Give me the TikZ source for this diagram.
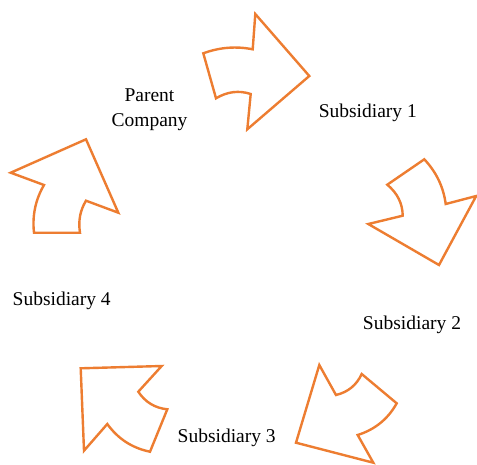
\documentclass[tikz,border=0pt]{standalone}
\usepackage{fontspec}
\setmainfont{Liberation Serif}
\definecolor{arroworange}{HTML}{ED7D31}
\tikzset{
  cyclearrow/.style={draw=arroworange, line width=2.4pt, line join=miter, fill=white},
  lbl/.style={font=\fontsize{19.5}{25}\selectfont, text=black, inner sep=0pt, anchor=base, align=center}
}
\begin{document}
\begin{tikzpicture}[x=1pt,y=-1pt]
\useasboundingbox (0,0) rectangle (477,464);
% arrow 1 (top)
\draw[cyclearrow] (203.3,53.3) .. controls (219.5,47.3) and (236.0,46.0) .. (252.7,49.3) -- (255.3,14) -- (309.3,76) -- (247.3,129.3) -- (250.7,94) .. controls (238.9,90.1) and (227.3,91.6) .. (216,98.3) -- cycle;
% arrow 2 (right)
\draw[cyclearrow] (424.3,159.3) .. controls (436.4,172.2) and (443.5,187.1) .. (445.7,204) -- (476.2,196) -- (439,265) -- (368.3,224) -- (402.7,215.7) .. controls (402.6,203.5) and (397.4,193.2) .. (387.3,184.7) -- cycle;
% arrow 3 (bottom right)
\draw[cyclearrow] (319.3,365) -- (336,395) .. controls (348.0,392.1) and (356.6,385.1) .. (361.7,374) -- (396.7,403.3) .. controls (388.0,419.0) and (375.0,429.5) .. (357.7,435) -- (373.3,462.7) -- (296,442.7) -- cycle;
% arrow 4 (bottom left)
\draw[cyclearrow] (80.7,368.3) -- (161.7,366) -- (138.3,391.7) .. controls (145.2,402.1) and (154.8,408.0) .. (167.3,409.3) -- (150,451.7) .. controls (132.3,448.1) and (118.0,438.9) .. (107.3,424) -- (84,450.7) -- cycle;
% arrow 5 (left)
\draw[cyclearrow] (86,139.3) -- (118.3,212.7) -- (86,200.7) .. controls (80.1,210.4) and (78.1,221.0) .. (80,232.7) -- (34,232.7) .. controls (32.1,215.5) and (35.5,199.6) .. (44,185) -- (10.7,172.7) -- cycle;
% labels
\node[lbl] (parent) at (149.5,126.5) {Parent\\Company};
\node[lbl] (sub1) at (367.8,117.5) {Subsidiary 1};
\node[lbl] (sub2) at (412,329.5) {Subsidiary 2};
\node[lbl] (sub3) at (226.7,442) {Subsidiary 3};
\node[lbl] (sub4) at (61.7,305.5) {Subsidiary 4};
\end{tikzpicture}
\end{document}
